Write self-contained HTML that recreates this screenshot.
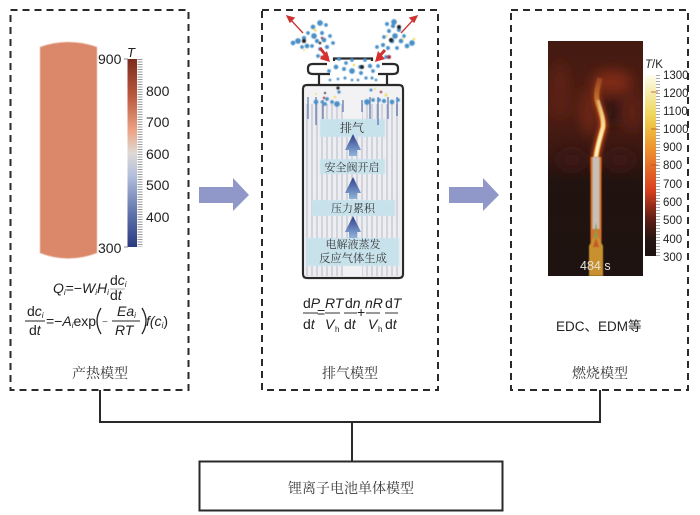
<!DOCTYPE html>
<html lang="zh"><head><meta charset="utf-8"><title>锂离子电池单体模型</title>
<style>
html,body{margin:0;padding:0;background:#fff}
svg{display:block}
text{font-family:"Liberation Sans","Noto Sans CJK SC",sans-serif;fill:#222}
text.cn{font-family:"Liberation Serif","Noto Serif CJK SC",serif;fill:#3a3a3a}
.it{font-style:italic}
text.f{font-size:14px;fill:#222}
text.w{fill:#e6e2de}
text.g{fill:#555}
</style></head><body>
<svg width="700" height="515" viewBox="0 0 700 515" xmlns="http://www.w3.org/2000/svg">
<defs>
<linearGradient id="lb" x1="0" y1="0" x2="0" y2="1">
<stop offset="0" stop-color="#7c2c1e"/><stop offset=".2" stop-color="#bb5a3e"/><stop offset=".38" stop-color="#eda384"/><stop offset=".5" stop-color="#dedad6"/><stop offset=".62" stop-color="#b4bfdc"/><stop offset=".82" stop-color="#5f74ac"/><stop offset="1" stop-color="#2b3a80"/>
</linearGradient>
<linearGradient id="rb" x1="0" y1="0" x2="0" y2="1">
<stop offset="0" stop-color="#fdfcee"/><stop offset=".21" stop-color="#f0d860"/><stop offset=".3" stop-color="#eebb40"/><stop offset=".41" stop-color="#ee9030"/><stop offset=".635" stop-color="#d8401f"/><stop offset=".8" stop-color="#5a1c14"/><stop offset=".91" stop-color="#241412"/><stop offset="1" stop-color="#1c1210"/>
</linearGradient>
<linearGradient id="bg" x1="0" y1="0" x2="0" y2="1">
<stop offset="0" stop-color="#431a11"/><stop offset=".3" stop-color="#4f1d13"/><stop offset=".48" stop-color="#381812"/><stop offset=".6" stop-color="#21130f"/><stop offset="1" stop-color="#1e1310"/>
</linearGradient>
<linearGradient id="ar" x1="0" y1="0" x2="0" y2="1">
<stop offset="0" stop-color="#2f3f8c"/><stop offset="1" stop-color="#8fb4dc"/>
</linearGradient>
<linearGradient id="fa" gradientUnits="userSpaceOnUse" x1="0" y1="76" x2="0" y2="125">
<stop offset="0" stop-color="#b8401c" stop-opacity=".15"/><stop offset="1" stop-color="#c2421c"/>
</linearGradient>
<linearGradient id="fb" gradientUnits="userSpaceOnUse" x1="0" y1="78" x2="0" y2="125">
<stop offset="0" stop-color="#e08a30" stop-opacity=".25"/><stop offset="1" stop-color="#eeb848"/>
</linearGradient>
<linearGradient id="fw" gradientUnits="userSpaceOnUse" x1="0" y1="90" x2="0" y2="140">
<stop offset="0" stop-color="#f2d890" stop-opacity=".4"/><stop offset="1" stop-color="#f8f0c8"/>
</linearGradient>
<pattern id="st" width="5" height="10" patternUnits="userSpaceOnUse">
<rect width="5" height="10" fill="#eeeef2"/><rect x="1" width="2" height="10" fill="#d2d4dc"/>
</pattern>
<filter id="b2" filterUnits="userSpaceOnUse" x="0" y="0" width="700" height="515"><feGaussianBlur stdDeviation="2"/></filter>
<filter id="b1" filterUnits="userSpaceOnUse" x="0" y="0" width="700" height="515"><feGaussianBlur stdDeviation="1"/></filter>
<filter id="b05" filterUnits="userSpaceOnUse" x="0" y="0" width="700" height="515"><feGaussianBlur stdDeviation=".45"/></filter>
<filter id="b6" filterUnits="userSpaceOnUse" x="0" y="0" width="700" height="515"><feGaussianBlur stdDeviation="6"/></filter>
<clipPath id="fc"><rect x="548" y="41" width="95" height="235"/></clipPath>
</defs>
<rect width="700" height="515" fill="#fff"/>

<!-- dashed panels -->
<g fill="none" stroke="#2a2a2a" stroke-width="2" stroke-dasharray="7 5">
<rect x="10.5" y="10" width="178" height="380"/>
<rect x="262" y="10" width="176" height="380"/>
<rect x="511" y="10" width="177" height="380"/>
</g>

<!-- connectors -->
<path d="M100 390V422H600V390M352 422V461" fill="none" stroke="#2a2a2a" stroke-width="2"/>
<rect x="199.500" y="461.500" width="303" height="49" fill="#fff" stroke="#2a2a2a" stroke-width="2"/>
<text class="cn" x="351" y="493" text-anchor="middle" font-size="14">锂离子电池单体模型</text>

<!-- block arrows -->
<path d="M199 187H233V178L249 195L233 211V203H199Z" fill="#8f98c8"/>
<path d="M449 187H483V178L499 195L483 211V203H449Z" fill="#8f98c8"/>

<!-- panel 1: cylinder -->
<path d="M40 47Q68 37 97 47V253Q68 264 40 253Z" fill="#da8869" filter="url(#b05)"/>
<rect x="127.500" y="59" width="9.500" height="188" fill="url(#lb)"/>
<line x1="140" y1="59" x2="140" y2="247" stroke="#999" stroke-width="5" stroke-dasharray="1 1.500"/>
<path d="M124 59h4M124 247h4" stroke="#888"/>
<text class="it" x="127" y="57" font-size="13">T</text>
<g font-size="14">
<text x="98" y="64">900</text><text x="98" y="253">300</text>
<text x="146" y="96">800</text><text x="146" y="127">700</text><text x="146" y="159">600</text><text x="146" y="190">500</text><text x="146" y="222">400</text>
</g>
<text class="f" x="53" y="293"><tspan class="it">Q</tspan><tspan class="it" font-size="8" dy="2">i</tspan><tspan dy="-2">=−</tspan><tspan class="it">W</tspan><tspan class="it" font-size="8" dy="2">i</tspan><tspan class="it" dy="-2">H</tspan><tspan class="it" font-size="8" dy="2">i</tspan></text>
<text class="f" x="110" y="285">d<tspan class="it">c</tspan><tspan class="it" font-size="8" dy="2">i</tspan></text>
<line x1="110" y1="289" x2="125" y2="289" stroke="#888" stroke-width=".7"/>
<text class="f" x="110" y="300">d<tspan class="it">t</tspan></text>
<text class="f" x="27" y="316">d<tspan class="it">c</tspan><tspan class="it" font-size="8" dy="2">i</tspan></text>
<line x1="25" y1="321" x2="45" y2="321" stroke="#222"/>
<text class="f" x="29" y="335">d<tspan class="it">t</tspan></text>
<text class="f" x="46" y="326">=−<tspan class="it">A</tspan><tspan class="it" font-size="8" dy="2">i</tspan><tspan dy="-2">exp</tspan></text>
<path d="M101 308Q93 321 101 334M142 308Q150 321 142 334" fill="none" stroke="#222" stroke-width="1.300"/>
<text x="102" y="325" font-size="10" class="g">−</text>
<text class="f it" x="117" y="316">Ea<tspan font-size="8" dy="2">i</tspan></text>
<line x1="112" y1="321" x2="140" y2="321" stroke="#222"/>
<text class="f it" x="115" y="335">RT</text>
<text class="f" x="146" y="326"><tspan class="it">f</tspan><tspan class="it">(c</tspan><tspan class="it" font-size="8" dy="2">i</tspan><tspan dy="-2">)</tspan></text>
<text class="cn" x="100" y="378" text-anchor="middle" font-size="14">产热模型</text>

<!-- panel 2: bottle -->
<rect x="305" y="86" width="96" height="190" fill="#f2f2f4"/>
<rect x="305" y="104" width="38" height="172" fill="url(#st)"/>
<rect x="362" y="104" width="39" height="172" fill="url(#st)"/>
<rect x="343" y="137" width="19" height="128" fill="url(#st)"/>
<g fill="#c8e2ec" filter="url(#b05)">
<rect x="320" y="119" width="65" height="18"/>
<rect x="320" y="159" width="65" height="15"/>
<rect x="312" y="200" width="83" height="16"/>
<rect x="306" y="238" width="93" height="28"/>
</g>
<g fill="none" stroke="#2a2a2a" stroke-width="2.200">
<path d="M307 85H399Q403 85 403 89V274Q403 278 399 278H307Q303 278 303 274V89Q303 85 307 85Z"/>
<path d="M319 75V85M387 75V85"/>
<path d="M334 61V58.500H372V61"/>
<path d="M327 64H313Q308 64 308 68V70Q308 74 313 74H330M378 74H393Q398 74 398 70V68Q398 64 393 64H382"/>
</g>
<g fill="url(#ar)">
<path d="M353 134L361 150H357V156H349V150H345Z"/>
<path d="M353 177L361 193H357V199H349V193H345Z"/>
<path d="M353 216L361 232H357V238H349V232H345Z"/>
</g>
<g stroke="#3c5a9c" stroke-width="1" fill="none">
<path d="M308 97V119M316 97V125M323 100V119M343 100V112M362 100V112M370 97V119M378 97V125M388 97V119M397 97V116"/>
</g>
<g>
<text class="cn" x="352" y="132" text-anchor="middle" font-size="12">排气</text>
<text class="cn" x="352" y="171" text-anchor="middle" font-size="11">安全阀开启</text>
<text class="cn" x="353" y="212" text-anchor="middle" font-size="11">压力累积</text>
<text class="cn" x="353" y="248" text-anchor="middle" font-size="11">电解液蒸发</text>
<text class="cn" x="353" y="262" text-anchor="middle" font-size="11.300">反应气体生成</text>
</g>
<!-- particles -->
<g fill="#4a90c8" stroke="#4a90c8" stroke-width=".7" filter="url(#b05)">
<circle cx="293" cy="43" r="2"/><circle cx="298" cy="41" r="2.500"/><circle cx="304" cy="38" r="1.800"/><circle cx="307" cy="46" r="2"/><circle cx="314" cy="36" r="2.500"/><circle cx="313" cy="27" r="2"/><circle cx="320" cy="23" r="2.500"/><circle cx="326" cy="25" r="1.500"/><circle cx="322" cy="33" r="1.600"/><circle cx="317" cy="41" r="1.800"/><circle cx="324" cy="40" r="2"/><circle cx="330" cy="36" r="1.500"/><circle cx="327" cy="47" r="1.700"/><circle cx="320" cy="49" r="1.500"/><circle cx="312" cy="46" r="1.500"/><circle cx="302" cy="47" r="1.500"/><circle cx="333" cy="43" r="1.500"/><circle cx="318" cy="56" r="1.500"/><circle cx="308" cy="33" r="1.500"/>
<circle cx="412" cy="43" r="2.500"/><circle cx="407" cy="46" r="2"/><circle cx="401" cy="41" r="2"/><circle cx="395" cy="36" r="2.500"/><circle cx="393" cy="26" r="1.800"/><circle cx="394" cy="22" r="2.500"/><circle cx="387" cy="24" r="1.600"/><circle cx="389" cy="31" r="1.600"/><circle cx="399" cy="30" r="1.700"/><circle cx="384" cy="37" r="1.500"/><circle cx="392" cy="41" r="2"/><circle cx="383" cy="45" r="1.700"/><circle cx="388" cy="48" r="1.600"/><circle cx="397" cy="48" r="1.500"/><circle cx="377" cy="47" r="1.500"/><circle cx="386" cy="57" r="1.500"/><circle cx="404" cy="36" r="1.500"/>
<circle cx="339" cy="59" r="1.500"/><circle cx="346" cy="63" r="1.500"/><circle cx="352" cy="60" r="1.500"/><circle cx="336" cy="67" r="2"/><circle cx="344" cy="69" r="1.600"/><circle cx="352" cy="71" r="2.500"/><circle cx="360" cy="67" r="1.500"/><circle cx="365" cy="60" r="1.500"/><circle cx="370" cy="66" r="1.800"/><circle cx="361" cy="73" r="1.600"/><circle cx="329" cy="71" r="1.500"/><circle cx="373" cy="71" r="1.500"/><circle cx="378" cy="66" r="1.500"/>
<circle cx="330" cy="80" r="1"/><circle cx="338" cy="79" r="1"/><circle cx="345" cy="78" r="1.200"/><circle cx="352" cy="80" r="1"/><circle cx="358" cy="80" r="1"/><circle cx="366" cy="78" r="1.300"/><circle cx="372" cy="78" r="1.200"/><circle cx="376" cy="80" r="1"/>
<circle cx="316" cy="102" r="2"/><circle cx="327" cy="99" r="1.500"/><circle cx="325" cy="104" r="1.500"/><circle cx="332" cy="102" r="1.500"/><circle cx="337" cy="104" r="2.500"/><circle cx="322" cy="102" r="1.200"/><circle cx="371" cy="90" r="1.200"/><circle cx="367" cy="102" r="2.500"/><circle cx="373" cy="100" r="1.500"/><circle cx="379" cy="100" r="1.500"/><circle cx="384" cy="101" r="1.700"/><circle cx="392" cy="102" r="2"/><circle cx="398" cy="100" r="1.500"/><circle cx="339" cy="92" r="1.300"/>
</g>
<g fill="#222" filter="url(#b05)">
<circle cx="304" cy="41" r="2"/><circle cx="399" cy="27" r="2"/><circle cx="391" cy="40" r="2"/><circle cx="362" cy="67" r="2"/><circle cx="338" cy="88" r="1.600"/><circle cx="325" cy="93" r="1"/><circle cx="320" cy="43" r="1.300"/>
</g>
<g fill="#f0dc60" filter="url(#b05)">
<circle cx="315" cy="30" r="1.500"/><circle cx="304" cy="50" r="1"/><circle cx="403" cy="39" r="1"/><circle cx="414" cy="39" r="1.300"/><circle cx="387" cy="36" r="1"/><circle cx="354" cy="65" r="1.300"/><circle cx="386" cy="95" r="1.500"/><circle cx="335" cy="97" r="1.200"/><circle cx="375" cy="89" r="1"/><circle cx="316" cy="94" r="1"/>
</g>
<g fill="#9c3344" filter="url(#b05)">
<circle cx="322" cy="38" r="1.200"/><circle cx="389" cy="57" r="2"/><circle cx="324" cy="98" r="1.200"/><circle cx="381" cy="92" r="1.200"/><circle cx="322" cy="57" r="1.500"/>
</g>
<g stroke="#cc3333" fill="#d62f2f" stroke-width="1.300">
<path d="M303 33L289 18" fill="none"/><path d="M287 16L294 18L290 22Z"/>
<path d="M401 33L415 18" fill="none"/><path d="M417 16L410 18L414 22Z"/>
<path d="M320 48L328 58M385 50L377 59" stroke-width="3" fill="none"/>
<path d="M330 62L320 59L327 51Z" stroke="none"/>
<path d="M375 62L385 59L378 51Z" stroke="none"/>
</g>
<text class="f" x="303" y="308">d<tspan class="it">P</tspan></text>
<line x1="303" y1="313" x2="318" y2="313" stroke="#333"/>
<text class="f" x="303" y="329">d<tspan class="it">t</tspan></text>
<text class="f" x="317" y="317" font-size="13">=</text>
<text class="f it" x="325" y="308">RT</text>
<line x1="325" y1="313" x2="340" y2="313" stroke="#333"/>
<text class="f it" x="325" y="329">V</text><text x="335" y="332" font-size="8">h</text>
<text class="f" x="345" y="308">d<tspan class="it">n</tspan></text>
<line x1="344" y1="313" x2="357" y2="313" stroke="#333"/>
<text class="f" x="344" y="329">d<tspan class="it">t</tspan></text>
<text class="f" x="357" y="317" font-size="13">+</text>
<text class="f it" x="365" y="308">nR</text>
<line x1="366" y1="313" x2="380" y2="313" stroke="#333"/>
<text class="f it" x="368" y="329">V</text><text x="378" y="332" font-size="8">h</text>
<text class="f" x="385" y="308">d<tspan class="it">T</tspan></text>
<line x1="385" y1="313" x2="398" y2="313" stroke="#333"/>
<text class="f" x="385" y="329">d<tspan class="it">t</tspan></text>
<text class="cn" x="350" y="378" text-anchor="middle" font-size="14">排气模型</text>

<!-- panel 3: flame -->
<g clip-path="url(#fc)">
<rect x="548" y="41" width="95" height="235" fill="url(#bg)"/>
<g filter="url(#b6)">
<ellipse cx="612" cy="82" rx="20" ry="12" fill="#7e2916"/>
<ellipse cx="589" cy="112" rx="8" ry="24" fill="#6e2615"/>
<ellipse cx="632" cy="112" rx="6" ry="20" fill="#642214"/>
<ellipse cx="611" cy="112" rx="7" ry="16" fill="#2a130e"/>
<ellipse cx="560" cy="90" rx="8" ry="28" fill="#5e2115"/>
<ellipse cx="572" cy="160" rx="14" ry="10" fill="#3e1912"/>
<ellipse cx="620" cy="160" rx="14" ry="10" fill="#3e1912"/>
</g>
<path d="M596 170V157C597 147 601 135 603 127C604 118 599 108 597 100C596 94 597 88 600 78" fill="none" stroke="url(#fa)" stroke-width="8" filter="url(#b2)"/>
<path d="M596 170V157C597 147 601 135 603 127C604 118 599 108 597 100C596 94 597 88 600 78" fill="none" stroke="url(#fb)" stroke-width="5" filter="url(#b05)"/>
<path d="M596 170V157C597 147 601 135 603 127C604 118 600 108 598 100" fill="none" stroke="url(#fw)" stroke-width="3" filter="url(#b05)"/>
<rect x="590.500" y="157" width="11" height="85" fill="#d8702a" filter="url(#b05)"/>
<rect x="592.500" y="157" width="7" height="72" fill="#c6c0b8" filter="url(#b05)"/>
<path d="M589 276V246L596 232L603 246V276Z" fill="#c8902f" filter="url(#b05)"/>
<path d="M593 247L596 238L599 247Z" fill="#c4582a" filter="url(#b05)"/>
<path d="M594 238L596 222L598 238Z" fill="#8a9a50" filter="url(#b05)"/>
</g>
<rect x="645" y="75" width="11" height="181" fill="url(#rb)"/>
<line x1="658" y1="75" x2="658" y2="256" stroke="#aaa" stroke-width="4" stroke-dasharray="1 2"/>
<path d="M651 92h7M651 129h7M651 165h7M651 201h7" stroke="#b05020" stroke-width=".8"/>
<text x="580" y="270" font-size="12.500" class="w">484 s</text>
<text x="645" y="68" font-size="11.500"><tspan class="it">T</tspan>/K</text>
<g font-size="11.500">
<text x="663" y="79">1300</text><text x="663" y="97">1200</text><text x="663" y="115">1100</text><text x="663" y="133">1000</text><text x="663" y="151">900</text><text x="663" y="169">800</text><text x="663" y="188">700</text><text x="663" y="206">600</text><text x="663" y="224">500</text><text x="663" y="243">400</text><text x="663" y="261">300</text>
</g>
<text x="556" y="331" font-size="13.500">EDC、EDM等</text>
<text class="cn" x="600" y="378" text-anchor="middle" font-size="14">燃烧模型</text>
</svg>
</body></html>
